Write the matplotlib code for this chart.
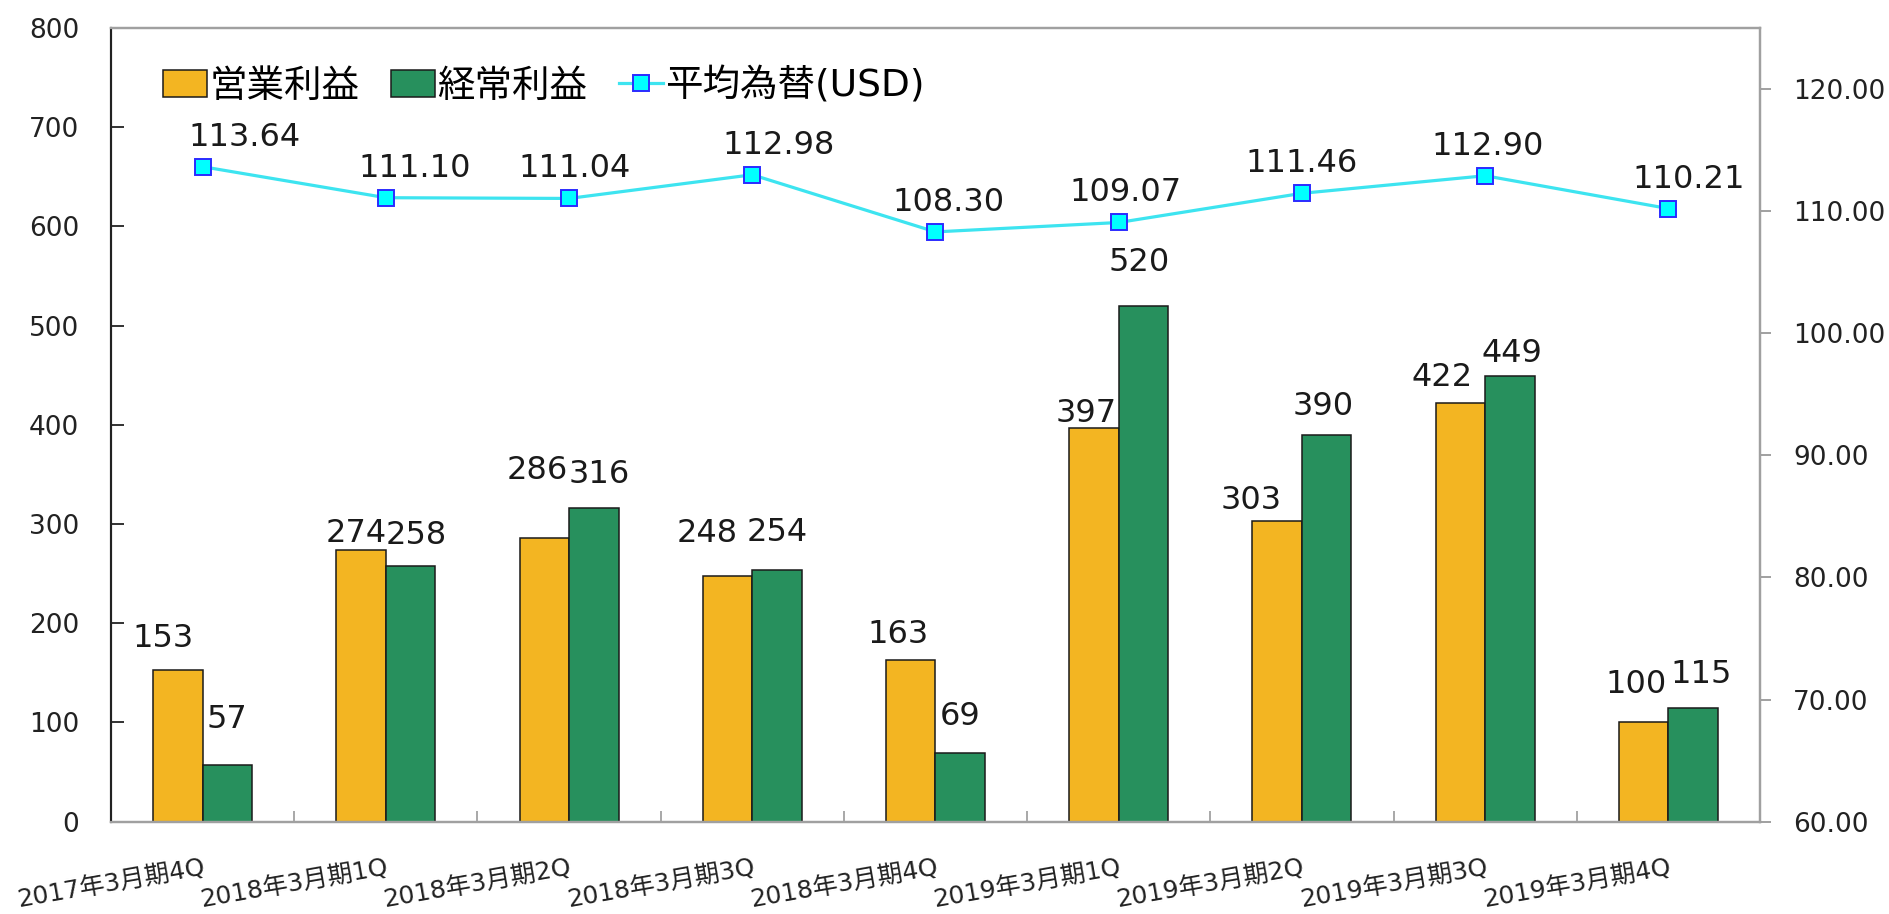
import matplotlib
matplotlib.use("Agg")
import matplotlib.pyplot as plt
import numpy as np
from matplotlib.lines import Line2D
from matplotlib.patches import Patch

categories = ["2017年3月期4Q", "2018年3月期1Q", "2018年3月期2Q", "2018年3月期3Q",
              "2018年3月期4Q", "2019年3月期1Q", "2019年3月期2Q", "2019年3月期3Q",
              "2019年3月期4Q"]
operating_profit = [153, 274, 286, 248, 163, 397, 303, 422, 100]
ordinary_profit = [57, 258, 316, 254, 69, 520, 390, 449, 115]
fx_usd = [113.64, 111.10, 111.04, 112.98, 108.30, 109.07, 111.46, 112.90, 110.21]
series_names = ["営業利益", "経常利益", "平均為替(USD)"]
left_ticks = [0, 100, 200, 300, 400, 500, 600, 700, 800]
right_ticks = [60, 70, 80, 90, 100, 110, 120]

# label nudges (pixels) to mimic the hand-placed data labels of the original
op_label_dx = [-15, -5, -7, -20, -13, -8, -26, -18, -8]
op_label_gap = [23, 8, 59, 34, 17, 6, 12, 17, 29]
ord_label_dx = [0, 6, 5, 0, 0, -4, -4, 2, 8]
ord_label_gap = [37, 22, 25, 29, 28, 35, 20, 14, 25]
fx_label_dx = [42, 29, 6, 26, 13, 7, 0, 2, 20]

W, H = 1889, 914
PX = 72 / 100  # points per pixel
fig = plt.figure(figsize=(W / 100, H / 100), dpi=100)
L, R, T, B = 111, 1760, 28, 821.6
ax = fig.add_axes([L / W, (H - B) / H, (R - L) / W, (B - T) / H])
ax2 = ax.twinx()

FAM = ["DejaVu Sans", "Noto Sans CJK JP"]
ORANGE = "#F3B522"
GREEN = "#27905D"
CYAN = "#3DE4F0"
TXT = "#1a1a1a"
LBL = 23

x = np.arange(len(categories))
bw = 0.27
ax.bar(x - bw / 2, operating_profit, bw, color=ORANGE, edgecolor=TXT, linewidth=1.1, zorder=2)
ax.bar(x + bw / 2, ordinary_profit, bw, color=GREEN, edgecolor=TXT, linewidth=1.1, zorder=2)

DESC = 7  # approx. descent below baseline in px
for xi, v, dx, g in zip(x - bw / 2, operating_profit, op_label_dx, op_label_gap):
    ax.annotate(f"{v}", (xi, v), xytext=(dx * PX, (g - DESC) * PX), textcoords="offset points",
                ha="center", va="bottom", fontsize=LBL, family=FAM, color=TXT)
for xi, v, dx, g in zip(x + bw / 2, ordinary_profit, ord_label_dx, ord_label_gap):
    ax.annotate(f"{v}", (xi, v), xytext=(dx * PX, (g - DESC) * PX), textcoords="offset points",
                ha="center", va="bottom", fontsize=LBL, family=FAM, color=TXT)

ax2.plot(x, fx_usd, color=CYAN, linewidth=2.3, marker="s", markersize=11,
         markerfacecolor="#00FFFF", markeredgecolor="#2B2BFF", markeredgewidth=1.4, zorder=5)
for xi, v, dx in zip(x, fx_usd, fx_label_dx):
    ax2.annotate(f"{v:.2f}", (xi, v), xytext=(dx * PX, (21 - DESC) * PX), textcoords="offset points",
                 ha="center", va="bottom", fontsize=LBL, family=FAM, color=TXT)

ax.set_xlim(-0.5, len(categories) - 0.5)
ax.set_ylim(0, 800)
ax2.set_ylim(60, 125)
ax.set_yticks(left_ticks)
ax.set_yticklabels([str(t) for t in left_ticks])
ax2.set_yticks(right_ticks)
ax2.set_yticklabels([f"{t:.2f}" for t in right_ticks])

ax.set_xticks(x)
ax.set_xticklabels(categories, rotation=10, ha="right", rotation_mode="anchor",
                   fontsize=18, family=FAM, color="#222222")
ax.tick_params(axis="x", which="major", length=0, pad=24)
ax.set_xticks(np.arange(0.5, len(categories) - 1, 1.0), minor=True)
ax.tick_params(axis="x", which="minor", direction="in", length=8, width=1.2, color="#999999")

ax.tick_params(axis="y", direction="in", length=9, width=1.3, color="#222222",
               labelsize=19, pad=23, labelcolor="#222222")
ax2.tick_params(axis="y", direction="out", length=8, width=1.3, color="#999999",
                labelsize=19, pad=16, labelcolor="#222222")
for lab in ax.get_yticklabels() + ax2.get_yticklabels():
    lab.set_family(FAM)

for a in (ax, ax2):
    a.spines["left"].set_color("#222222")
    a.spines["left"].set_linewidth(1.5)
    for s in ("right", "top", "bottom"):
        a.spines[s].set_color("#A0A0A0")
        a.spines[s].set_linewidth(1.6)

handles = [Patch(facecolor=ORANGE, edgecolor=TXT, linewidth=1.1),
           Patch(facecolor=GREEN, edgecolor=TXT, linewidth=1.1),
           Line2D([], [], color=CYAN, linewidth=2.3, marker="s", markersize=11,
                  markerfacecolor="#00FFFF", markeredgecolor="#2B2BFF", markeredgewidth=1.4)]
ax2.legend(handles, series_names, loc="center left",
           bbox_to_anchor=((163 - L) / (R - L), (B - 86) / (B - T)),
           ncol=3, frameon=False, borderpad=0, borderaxespad=0,
           handlelength=1.17, handleheight=0.72, handletextpad=0.06,
           columnspacing=0.85, prop={"family": FAM, "size": 27})

fig.savefig("out.png", dpi=100, facecolor="white")
